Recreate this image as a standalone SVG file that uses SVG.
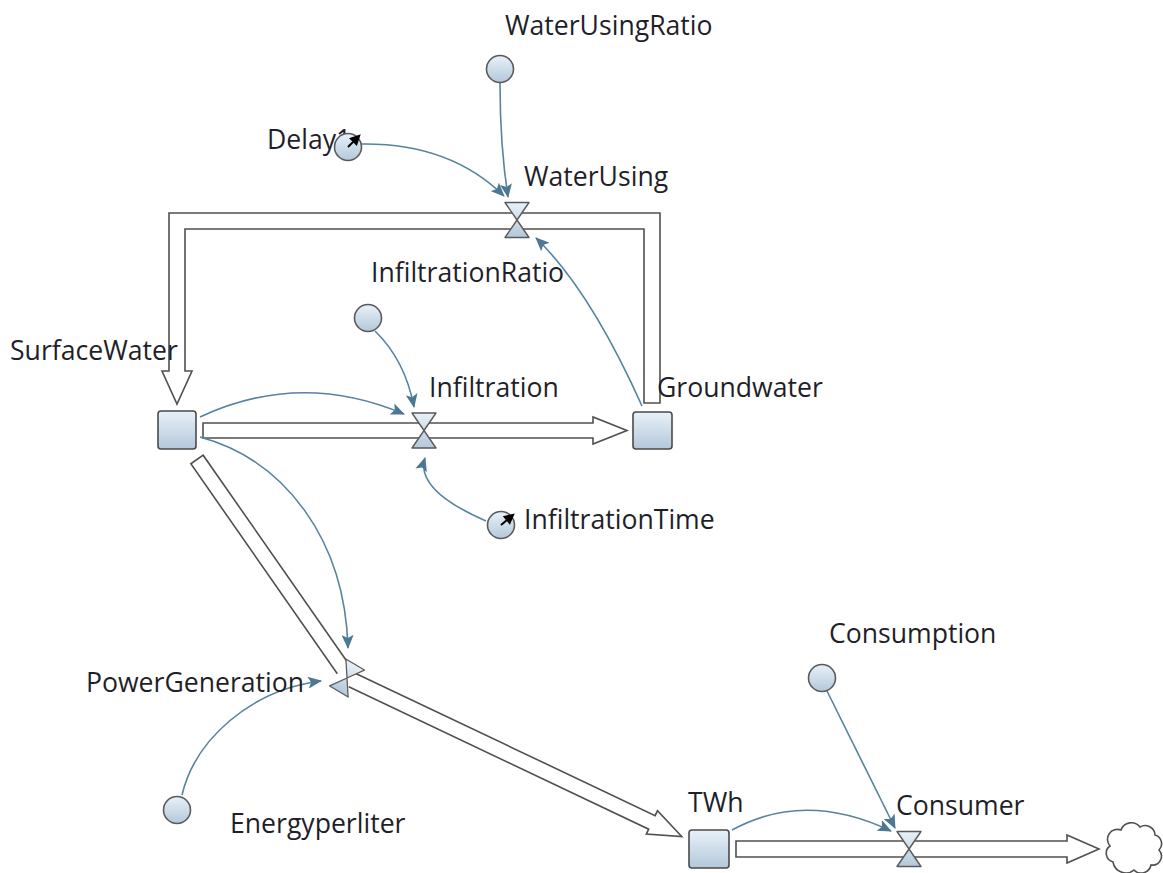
<svg xmlns="http://www.w3.org/2000/svg" xmlns:xlink="http://www.w3.org/1999/xlink" width="1163" height="873" viewBox="0 0 1163 873">
  <style>
    .lbl { font-family: "Open Sans", "Noto Sans", "DejaVu Sans", sans-serif; font-size: 26.6px; fill: #1f1f2a; }
    .pipe { fill: #ffffff; stroke: #505050; stroke-width: 1.6; stroke-linejoin: miter; }
    .stock { fill: url(#shade); stroke: #4a4a4a; stroke-width: 1.6; }
    .aux { fill: url(#shade); stroke: #5a5a5a; stroke-width: 1.6; }
    .valve { fill: url(#shade); stroke: #5a5a5a; stroke-width: 1.4; stroke-linejoin: round; }
    .link { fill: none; stroke: #5683a0; stroke-width: 1.6; marker-end: url(#tip); }
    .cloud { fill: #ffffff; stroke: #505050; stroke-width: 1.6; }
  </style>
  <defs>
    <linearGradient id="shade" x1="0" y1="0" x2="0" y2="1">
      <stop offset="0" stop-color="#e8f1f9"/>
      <stop offset="1" stop-color="#b3c8da"/>
    </linearGradient>
    <marker id="tip" markerUnits="userSpaceOnUse" markerWidth="14" markerHeight="12" viewBox="0 0 14 12" refX="13" refY="6" orient="auto">
      <path d="M0,0 L14,6 L0,12 L3,6 Z" fill="#4c7893"/>
    </marker>
    <path id="valveShape" class="valve" d="M-12,-17.5 L12,-17.5 L0,0 Z M0,0 L-12,17.5 L12,17.5 Z"/>
    <g id="delayMark">
      <line x1="0" y1="0" x2="9" y2="0" stroke="#000" stroke-width="2"/>
      <path d="M7,-5.5 L18,0 L7,5.5 Z" fill="#000"/>
    </g>
  </defs>

  <rect width="1163" height="873" fill="#ffffff"/>

  <!-- material flows (pipes) and information links -->
  <g id="connectors">
    <!-- WaterUsing pipe: Groundwater -> SurfaceWater over the top -->
    <path class="pipe" d="M660,403 L660,213 L169,213 L169,371 L162,371 L177,404 L192,371 L185,371 L185,229 L644,229 L644,403 Z"/>
    <!-- Infiltration pipe: SurfaceWater -> Groundwater -->
    <path class="pipe" d="M203,423 L593,423 L593,417 L627,430.5 L593,444 L593,438 L203,438 Z"/>
    <!-- PowerGeneration pipe, first leg from SurfaceWater -->
    <g transform="translate(197,459.5) rotate(55.1)">
      <path class="pipe" d="M256,-7.5 L0,-7.5 L0,7.5 L256,7.5"/>
    </g>
    <!-- PowerGeneration pipe, second leg into TWh -->
    <g transform="translate(352,680) rotate(25.4)">
      <path class="pipe" d="M0,-7.5 L332,-7.5 L332,-13 L365,0 L332,13 L332,7.5 L0,7.5"/>
    </g>
    <!-- Consumer pipe: TWh -> sink -->
    <path class="pipe" d="M736,841 L1067,841 L1067,835 L1099,849 L1067,863 L1067,857 L736,857 Z"/>

    <!-- information links -->
    <path class="link" d="M500,83 C500,130 503,165 508,197"/>
    <path class="link" d="M362,144 Q450,143 504,196"/>
    <path class="link" d="M642,406 Q590,290 536,238"/>
    <path class="link" d="M375,331 Q405,360 414,407"/>
    <path class="link" d="M200,417 Q300,370 404,414"/>
    <path class="link" d="M486,521 Q415,490 425,458"/>
    <path class="link" d="M200,437 C285,460 345,540 348,648"/>
    <path class="link" d="M182,795 C195,740 250,690 321,681"/>
    <path class="link" d="M732,830 Q805,790 891,831"/>
    <path class="link" d="M827,691 L895,828"/>
  </g>

  <!-- stocks -->
  <g id="SurfaceWater">
    <rect class="stock" x="158" y="411" width="38" height="38" rx="3"/>
    <text class="lbl" x="10" y="360">SurfaceWater</text>
  </g>
  <g id="Groundwater">
    <rect class="stock" x="633" y="412" width="39" height="37" rx="3"/>
    <text class="lbl" x="657" y="397">Groundwater</text>
  </g>
  <g id="TWh">
    <rect class="stock" x="689" y="830" width="40" height="38" rx="3"/>
    <text class="lbl" x="688" y="812">TWh</text>
  </g>

  <!-- flows (valves) -->
  <g id="WaterUsing">
    <use xlink:href="#valveShape" transform="translate(517,220)"/>
    <text class="lbl" x="524" y="186">WaterUsing</text>
  </g>
  <g id="Infiltration">
    <use xlink:href="#valveShape" transform="translate(424,430.5)"/>
    <text class="lbl" x="429" y="397">Infiltration</text>
  </g>
  <g id="PowerGeneration">
    <use xlink:href="#valveShape" transform="translate(347,678) rotate(31) scale(0.9)"/>
    <text class="lbl" x="86" y="692">PowerGeneration</text>
  </g>
  <g id="Consumer">
    <use xlink:href="#valveShape" transform="translate(909,849)"/>
    <text class="lbl" x="896" y="815">Consumer</text>
  </g>

  <!-- sink -->
  <g id="Sink">
    <path class="cloud" d="M1113,862 A9,9 0 0 1 1110,846 A10,10 0 0 1 1121,830 A11,11 0 0 1 1140,827 A10,10 0 0 1 1155,835 A9,9 0 0 1 1159,850 A9,9 0 0 1 1151,865 A10,10 0 0 1 1134,870 A13,13 0 0 1 1113,862 Z"/>
  </g>

  <!-- auxiliaries -->
  <g id="WaterUsingRatio">
    <circle class="aux" cx="500" cy="69" r="13.5"/>
    <text class="lbl" x="505" y="35">WaterUsingRatio</text>
  </g>
  <g id="Delay1">
    <text class="lbl" x="267" y="149">Delay1</text>
    <circle class="aux" cx="348" cy="147" r="13.5"/>
    <use xlink:href="#delayMark" transform="translate(348,147) rotate(-45)"/>
  </g>
  <g id="InfiltrationRatio">
    <circle class="aux" cx="368" cy="318" r="13.5"/>
    <text class="lbl" x="371" y="282">InfiltrationRatio</text>
  </g>
  <g id="InfiltrationTime">
    <circle class="aux" cx="501" cy="525" r="13.5"/>
    <use xlink:href="#delayMark" transform="translate(501,525) rotate(-40)"/>
    <text class="lbl" x="524" y="529">InfiltrationTime</text>
  </g>
  <g id="Consumption">
    <circle class="aux" cx="822" cy="678" r="13.5"/>
    <text class="lbl" x="829" y="643">Consumption</text>
  </g>
  <g id="Energyperliter">
    <circle class="aux" cx="177" cy="810" r="13.5"/>
    <text class="lbl" x="230" y="833">Energyperliter</text>
  </g>
</svg>
